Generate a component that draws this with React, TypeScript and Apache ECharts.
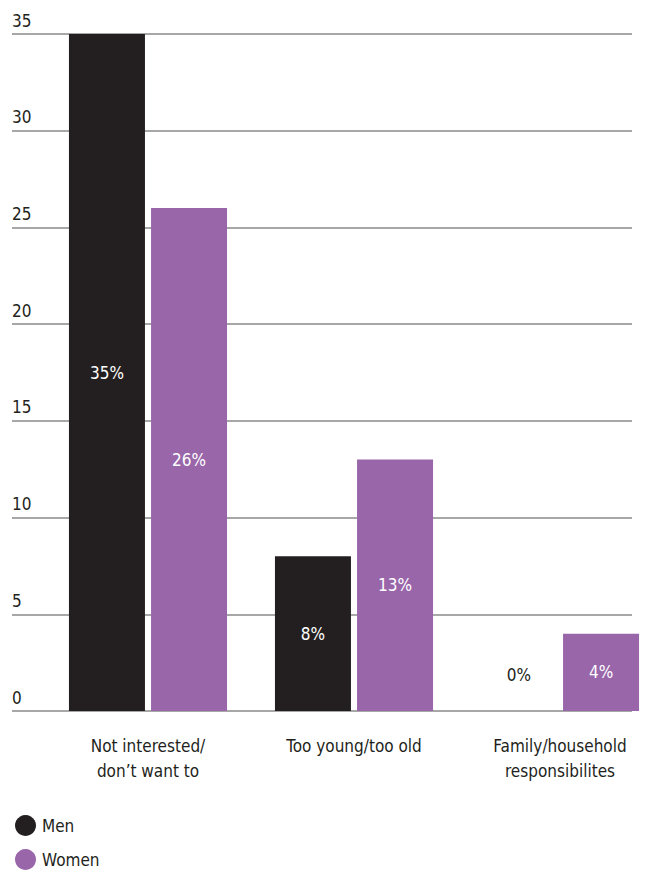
import React, { useEffect, useRef } from "react";
import * as echarts from "echarts";

const categories = ["Not interested/\ndon\u2019t want to", "Too young/too old", "Family/household\nresponsibilites"];
const menValues = [35, 8, 0];
const womenValues = [26, 13, 4];
const yTicks = { min: 0, max: 35, interval: 5 };

const FONT = "'Liberation Sans Narrow', 'DejaVu Sans Condensed', 'Open Sans', sans-serif";
const INK = "#231f20";
const PURPLE = "#9966aa";
const GRID_GRAY = "#8a8a8a";

export default function App() {
  const ref = useRef<HTMLDivElement>(null);

  useEffect(() => {
    if (!ref.current) return;
    const chart = echarts.init(ref.current, undefined, { renderer: "svg" });

    const barLabel = {
      show: true,
      position: "inside",
      color: "#ffffff",
      fontFamily: FONT,
      fontSize: 17,
      formatter: (p: any) => `${p.value}%`,
    };

    chart.setOption({
      animation: false,
      textStyle: { fontFamily: FONT },
      grid: [
        { left: 45, top: 34, width: 618, height: 677 },
        { left: 12, top: 34, width: 620, height: 677 },
      ],
      xAxis: [
        {
          gridIndex: 0,
          type: "category",
          data: categories,
          axisLine: { show: false },
          axisTick: { show: false },
          axisLabel: {
            color: INK,
            fontFamily: FONT,
            fontSize: 17,
            lineHeight: 25,
            margin: 22,
          },
        },
        { gridIndex: 1, type: "value", show: false, min: 0, max: 1 },
      ],
      yAxis: [
        { gridIndex: 0, type: "value", show: false, ...yTicks },
        {
          gridIndex: 1,
          type: "value",
          ...yTicks,
          axisLine: { show: false },
          axisTick: { show: false },
          splitLine: { show: true, lineStyle: { color: GRID_GRAY, width: 1.5 } },
          axisLabel: {
            inside: true,
            margin: 0,
            align: "left",
            verticalAlign: "bottom",
            padding: [0, 0, 5, 0],
            color: INK,
            fontFamily: FONT,
            fontSize: 17,
          },
        },
      ],
      legend: {
        orient: "vertical",
        left: 15,
        top: 815,
        padding: 0,
        itemGap: 13,
        itemWidth: 21,
        itemHeight: 21,
        icon: "circle",
        textStyle: { color: INK, fontFamily: FONT, fontSize: 17, padding: [0, 0, 0, 1] },
        data: ["Men", "Women"],
      },
      series: [
        {
          name: "Men",
          type: "bar",
          xAxisIndex: 0,
          yAxisIndex: 0,
          barWidth: 76,
          barGap: "8%",
          itemStyle: { color: INK },
          label: barLabel,
          data: menValues.map((v) =>
            v === 0
              ? { value: v, label: { position: "top", distance: 28, color: INK } }
              : v
          ),
        },
        {
          name: "Women",
          type: "bar",
          xAxisIndex: 0,
          yAxisIndex: 0,
          barWidth: 76,
          barGap: "8%",
          itemStyle: { color: PURPLE },
          label: barLabel,
          data: womenValues,
        },
      ],
    });

    return () => chart.dispose();
  }, []);

  return (
    <div style={{ position: "absolute", left: 0, top: 0, width: 645, height: 873, overflow: "hidden", background: "#fff" }}>
      <div ref={ref} style={{ width: 680, height: 873 }} />
    </div>
  );
}
